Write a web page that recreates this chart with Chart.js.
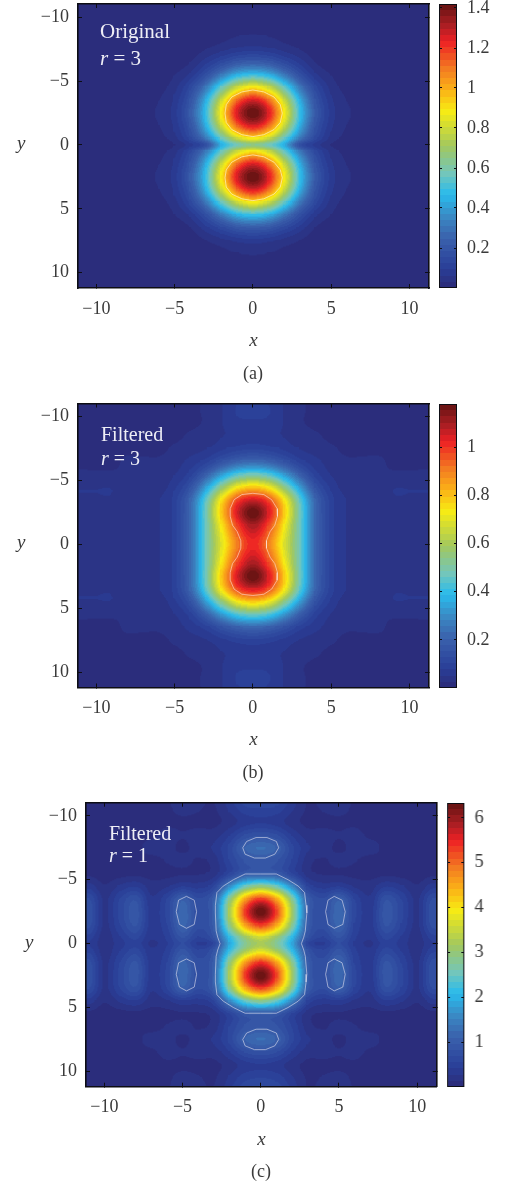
<!DOCTYPE html>
<html>
<head>
<meta charset="utf-8">
<script src="https://cdn.jsdelivr.net/npm/chart.js@4/dist/chart.umd.js"></script>
<style>
  html, body { margin: 0; padding: 0; background: #fff; }
  body { position: relative; width: 506px; height: 1185px; overflow: hidden; }
  canvas { position: absolute; }
</style>
</head>
<body>
<script>
// grid nodes of the three maps
const xNodes = [-12,-11,-10,-9,-8,-7,-6,-5,-4,-3,-2,-1,0,1,2,3,4,5,6,7,8,9,10,11,12];
const yNodes = [-11.5,-10.5,-9.5,-8.5,-7.5,-6.5,-5.5,-4.5,-3.5,-2.5,-1.5,-0.5,0,0.5,1.5,2.5,3.5,4.5,5.5,6.5,7.5,8.5,9.5,10.5,11.5];

const xTicks = [-10,-5,0,5,10];
const yTicks = [-10,-5,0,5,10];

// (a) original, r = 3
const zA = [
[0,0,0,0,0,0,0,0,0,0,0,0,0,0,0,0,0,0,0,0,0,0,0,0,0],
[0,0,0,0,0,0,0,0,0,0,0,0,0,0,0,0,0,0,0,0,0,0,0,0,0],
[0,0,0,0,0,0,0,0,0,0,0,0,0.01,0,0,0,0,0,0,0,0,0,0,0,0],
[0,0,0,0,0,0,0,0,0,0.01,0.02,0.03,0.035,0.03,0.02,0.01,0,0,0,0,0,0,0,0,0],
[0,0,0,0,0,0,0,0,0.01,0.03,0.05,0.07,0.08,0.07,0.05,0.03,0.01,0,0,0,0,0,0,0,0],
[0,0,0,0,0,0,0,0.01,0.03,0.08,0.14,0.2,0.22,0.2,0.14,0.08,0.03,0.01,0,0,0,0,0,0,0],
[0,0,0,0,0,0,0.01,0.03,0.07,0.17,0.31,0.44,0.49,0.44,0.31,0.17,0.07,0.03,0.01,0,0,0,0,0,0],
[0,0,0,0,0,0,0.02,0.05,0.14,0.31,0.56,0.79,0.89,0.79,0.56,0.31,0.14,0.05,0.02,0,0,0,0,0,0],
[0,0,0,0,0,0.01,0.03,0.07,0.19,0.44,0.79,1.12,1.26,1.12,0.79,0.44,0.19,0.07,0.03,0.01,0,0,0,0,0],
[0,0,0,0,0,0.01,0.04,0.08,0.22,0.49,0.89,1.26,1.42,1.26,0.89,0.49,0.22,0.08,0.04,0.01,0,0,0,0,0],
[0,0,0,0,0,0.01,0.03,0.07,0.19,0.44,0.79,1.12,1.26,1.12,0.79,0.44,0.19,0.07,0.03,0.01,0,0,0,0,0],
[0,0,0,0,0,0,0.02,0.05,0.14,0.31,0.56,0.79,0.89,0.79,0.56,0.31,0.14,0.05,0.02,0,0,0,0,0,0],
[0,0,0,0,0,0,0.01,0.03,0.08,0.17,0.44,0.58,0.65,0.58,0.44,0.17,0.08,0.03,0.01,0,0,0,0,0,0],
[0,0,0,0,0,0,0.02,0.05,0.14,0.31,0.56,0.79,0.89,0.79,0.56,0.31,0.14,0.05,0.02,0,0,0,0,0,0],
[0,0,0,0,0,0.01,0.03,0.07,0.19,0.44,0.79,1.12,1.26,1.12,0.79,0.44,0.19,0.07,0.03,0.01,0,0,0,0,0],
[0,0,0,0,0,0.01,0.04,0.08,0.22,0.49,0.89,1.26,1.42,1.26,0.89,0.49,0.22,0.08,0.04,0.01,0,0,0,0,0],
[0,0,0,0,0,0.01,0.03,0.07,0.19,0.44,0.79,1.12,1.26,1.12,0.79,0.44,0.19,0.07,0.03,0.01,0,0,0,0,0],
[0,0,0,0,0,0,0.02,0.05,0.14,0.31,0.56,0.79,0.89,0.79,0.56,0.31,0.14,0.05,0.02,0,0,0,0,0,0],
[0,0,0,0,0,0,0.01,0.03,0.07,0.17,0.31,0.44,0.49,0.44,0.31,0.17,0.07,0.03,0.01,0,0,0,0,0,0],
[0,0,0,0,0,0,0,0.01,0.03,0.08,0.14,0.2,0.22,0.2,0.14,0.08,0.03,0.01,0,0,0,0,0,0,0],
[0,0,0,0,0,0,0,0,0.01,0.03,0.05,0.07,0.08,0.07,0.05,0.03,0.01,0,0,0,0,0,0,0,0],
[0,0,0,0,0,0,0,0,0,0.01,0.02,0.03,0.035,0.03,0.02,0.01,0,0,0,0,0,0,0,0,0],
[0,0,0,0,0,0,0,0,0,0,0,0,0.01,0,0,0,0,0,0,0,0,0,0,0,0],
[0,0,0,0,0,0,0,0,0,0,0,0,0,0,0,0,0,0,0,0,0,0,0,0,0],
[0,0,0,0,0,0,0,0,0,0,0,0,0,0,0,0,0,0,0,0,0,0,0,0,0]
];

// (b) filtered, r = 3
const zB = [
[.01,.01,.01,.01,.01,.01,.01,.02,.02,.03,.05,.07,.08,.07,.05,.03,.02,.02,.01,.01,.01,.01,.01,.01,.01],
[.01,.01,.01,.01,.01,.01,.01,.01,.02,.03,.05,.08,.09,.08,.05,.03,.02,.01,.01,.01,.01,.01,.01,.01,.01],
[.01,.01,.01,.01,.01,.01,.01,.02,.02,.03,.05,.07,.07,.07,.05,.03,.02,.02,.01,.01,.01,.01,.01,.01,.01],
[.01,.01,.01,.02,.02,.02,.02,.02,.03,.04,.05,.06,.06,.06,.05,.04,.03,.02,.02,.02,.02,.02,.01,.01,.01],
[.01,.01,.02,.02,.02,.02,.02,.03,.04,.05,.07,.09,.1,.09,.07,.05,.04,.03,.02,.02,.02,.02,.02,.01,.01],
[.02,.02,.02,.02,.03,.03,.03,.04,.06,.09,.15,.2,.22,.2,.15,.09,.06,.04,.03,.03,.03,.02,.02,.02,.02],
[.03,.03,.03,.03,.03,.04,.04,.05,.09,.19,.32,.43,.47,.43,.32,.19,.09,.05,.04,.04,.03,.03,.03,.03,.03],
[.05,.05,.05,.05,.04,.04,.04,.07,.15,.33,.54,.72,.78,.72,.54,.33,.15,.07,.04,.04,.04,.05,.05,.05,.05],
[.05,.05,.05,.05,.04,.04,.05,.09,.21,.45,.74,.97,1.05,.97,.74,.45,.21,.09,.05,.04,.04,.05,.05,.05,.05],
[.05,.05,.05,.05,.04,.04,.05,.09,.22,.48,.79,1.05,1.18,1.05,.79,.48,.22,.09,.05,.04,.04,.05,.05,.05,.05],
[.05,.05,.05,.05,.05,.05,.05,.09,.22,.47,.74,.98,1.1,.98,.74,.47,.22,.09,.05,.05,.05,.05,.05,.05,.05],
[.05,.05,.05,.05,.05,.05,.05,.09,.22,.47,.7,.92,1.03,.92,.7,.47,.22,.09,.05,.05,.05,.05,.05,.05,.05],
[.05,.05,.05,.05,.05,.05,.05,.09,.22,.47,.69,.9,1.02,.9,.69,.47,.22,.09,.05,.05,.05,.05,.05,.05,.05],
[.05,.05,.05,.05,.05,.05,.05,.09,.22,.47,.7,.92,1.03,.92,.7,.47,.22,.09,.05,.05,.05,.05,.05,.05,.05],
[.05,.05,.05,.05,.05,.05,.05,.09,.22,.47,.74,.98,1.1,.98,.74,.47,.22,.09,.05,.05,.05,.05,.05,.05,.05],
[.05,.05,.05,.05,.04,.04,.05,.09,.22,.48,.79,1.05,1.18,1.05,.79,.48,.22,.09,.05,.04,.04,.05,.05,.05,.05],
[.05,.05,.05,.05,.04,.04,.05,.09,.21,.45,.74,.97,1.05,.97,.74,.45,.21,.09,.05,.04,.04,.05,.05,.05,.05],
[.05,.05,.05,.05,.04,.04,.04,.07,.15,.33,.54,.72,.78,.72,.54,.33,.15,.07,.04,.04,.04,.05,.05,.05,.05],
[.03,.03,.03,.03,.03,.04,.04,.05,.09,.19,.32,.43,.47,.43,.32,.19,.09,.05,.04,.04,.03,.03,.03,.03,.03],
[.02,.02,.02,.02,.03,.03,.03,.04,.06,.09,.15,.2,.22,.2,.15,.09,.06,.04,.03,.03,.03,.02,.02,.02,.02],
[.01,.01,.02,.02,.02,.02,.02,.03,.04,.05,.07,.09,.1,.09,.07,.05,.04,.03,.02,.02,.02,.02,.02,.01,.01],
[.01,.01,.01,.02,.02,.02,.02,.02,.03,.04,.05,.06,.06,.06,.05,.04,.03,.02,.02,.02,.02,.02,.01,.01,.01],
[.01,.01,.01,.01,.01,.01,.01,.02,.02,.03,.05,.07,.07,.07,.05,.03,.02,.02,.01,.01,.01,.01,.01,.01,.01],
[.01,.01,.01,.01,.01,.01,.01,.01,.02,.03,.05,.08,.09,.08,.05,.03,.02,.01,.01,.01,.01,.01,.01,.01,.01],
[.01,.01,.01,.01,.01,.01,.01,.02,.02,.03,.05,.07,.08,.07,.05,.03,.02,.02,.01,.01,.01,.01,.01,.01,.01]
];

// (c) filtered, r = 1
const zC = [
[.05,.1,.05,.05,.15,.05,.12,.3,.2,.15,.4,.7,.8,.7,.4,.15,.2,.3,.12,.05,.15,.05,.05,.1,.05],
[.05,.08,.05,.05,.1,.05,.1,.2,.15,.12,.3,.5,.55,.5,.3,.12,.15,.2,.1,.05,.1,.05,.05,.08,.05],
[.05,.05,.05,.05,.05,.05,.1,.1,.1,.1,.2,.35,.4,.35,.2,.1,.1,.1,.1,.05,.05,.05,.05,.05,.05],
[.08,.08,.08,.1,.1,.1,.2,.15,.2,.2,.4,.7,.8,.7,.4,.2,.2,.15,.2,.1,.1,.1,.08,.08,.08],
[.1,.08,.12,.12,.1,.2,.2,.1,.22,.3,.6,1.1,1.25,1.1,.6,.3,.22,.1,.2,.2,.1,.12,.12,.08,.1],
[.12,.1,.06,.1,.12,.08,.15,.2,.12,.2,.55,.85,.95,.85,.55,.2,.12,.2,.15,.08,.12,.1,.06,.1,.12],
[.1,.1,.06,.08,.1,.08,.1,.12,.12,.2,.55,.95,1,.95,.55,.2,.12,.12,.1,.08,.1,.08,.06,.1,.1],
[.3,.35,.15,.3,.4,.2,.25,.4,.35,.55,1.55,2.5,2.9,2.5,1.55,.55,.35,.4,.25,.2,.4,.3,.15,.35,.3],
[.55,.7,.25,.55,.8,.3,.55,1.05,.7,1.05,2.8,4.5,5.3,4.5,2.8,1.05,.7,1.05,.55,.3,.8,.55,.25,.7,.55],
[.6,.8,.25,.6,.9,.35,.6,1.2,.75,1.1,3.2,5.3,6.33,5.3,3.2,1.1,.75,1.2,.6,.35,.9,.6,.25,.8,.6],
[.6,.75,.25,.55,.85,.35,.55,1.15,.75,1.05,2.9,4.6,5.4,4.6,2.9,1.05,.75,1.15,.55,.35,.85,.55,.25,.75,.6],
[.45,.5,.2,.4,.6,.3,.45,.85,.55,.85,2.1,3.1,3.6,3.1,2.1,.85,.55,.85,.45,.3,.6,.4,.2,.5,.45],
[.4,.4,.2,.35,.5,.25,.4,.7,.4,.6,1.9,2.8,3.2,2.8,1.9,.6,.4,.7,.4,.25,.5,.35,.2,.4,.4],
[.45,.5,.2,.4,.6,.3,.45,.85,.55,.85,2.1,3.1,3.6,3.1,2.1,.85,.55,.85,.45,.3,.6,.4,.2,.5,.45],
[.6,.75,.25,.55,.85,.35,.55,1.15,.75,1.05,2.9,4.6,5.4,4.6,2.9,1.05,.75,1.15,.55,.35,.85,.55,.25,.75,.6],
[.6,.8,.25,.6,.9,.35,.6,1.2,.75,1.1,3.2,5.3,6.33,5.3,3.2,1.1,.75,1.2,.6,.35,.9,.6,.25,.8,.6],
[.55,.7,.25,.55,.8,.3,.55,1.05,.7,1.05,2.8,4.5,5.3,4.5,2.8,1.05,.7,1.05,.55,.3,.8,.55,.25,.7,.55],
[.3,.35,.15,.3,.4,.2,.25,.4,.35,.55,1.55,2.5,2.9,2.5,1.55,.55,.35,.4,.25,.2,.4,.3,.15,.35,.3],
[.1,.1,.06,.08,.1,.08,.1,.12,.12,.2,.55,.95,1,.95,.55,.2,.12,.12,.1,.08,.1,.08,.06,.1,.1],
[.12,.1,.06,.1,.12,.08,.15,.2,.12,.2,.55,.85,.95,.85,.55,.2,.12,.2,.15,.08,.12,.1,.06,.1,.12],
[.1,.08,.12,.12,.1,.2,.2,.1,.22,.3,.6,1.1,1.25,1.1,.6,.3,.22,.1,.2,.2,.1,.12,.12,.08,.1],
[.08,.08,.08,.1,.1,.1,.2,.15,.2,.2,.4,.7,.8,.7,.4,.2,.2,.15,.2,.1,.1,.1,.08,.08,.08],
[.05,.05,.05,.05,.05,.05,.1,.1,.1,.1,.2,.35,.4,.35,.2,.1,.1,.1,.1,.05,.05,.05,.05,.05,.05],
[.05,.08,.05,.05,.1,.05,.1,.2,.15,.12,.3,.5,.55,.5,.3,.12,.15,.2,.1,.05,.1,.05,.05,.08,.05],
[.05,.1,.05,.05,.15,.05,.12,.3,.2,.15,.4,.7,.8,.7,.4,.15,.2,.3,.12,.05,.15,.05,.05,.1,.05]
];

// white level lines as [x, y]
const contoursA = [
  [[0,-4.3],[.7,-4.15],[1.35,-3.75],[1.75,-3.15],[1.88,-2.48],[1.75,-1.75],[1.35,-1.2],[.7,-.8],[0,-.65],[-.7,-.8],[-1.35,-1.2],[-1.7,-1.75],[-1.78,-2.48],[-1.7,-3.15],[-1.35,-3.75],[-.7,-4.15],[0,-4.3]],
  [[0,.78],[.7,.93],[1.35,1.35],[1.75,1.95],[1.88,2.57],[1.75,3.3],[1.35,3.85],[.7,4.22],[0,4.36],[-.7,4.22],[-1.35,3.85],[-1.7,3.3],[-1.78,2.57],[-1.7,1.95],[-1.35,1.35],[-.7,.93],[0,.78]]
];
const contoursB = [
  [[0,-4],[.7,-3.9],[1.2,-3.5],[1.55,-2.8],[1.57,-2.2],[1.4,-1.5],[1.1,-1],[.87,-.3],[.87,.3],[1.1,1],[1.4,1.5],[1.57,2.2],[1.55,2.8],[1.2,3.5],[.7,3.9],[0,4],[-.7,3.9],[-1.2,3.5],[-1.45,2.8],[-1.45,2.2],[-1.3,1.5],[-1,1],[-.77,.3],[-.77,-.3],[-1,-1],[-1.3,-1.5],[-1.45,-2.2],[-1.45,-2.8],[-1.2,-3.5],[-.7,-3.9],[0,-4]]
];
const contoursC = [
  [[0,-5.45],[1,-5.45],[1.75,-5],[2.4,-4.5],[2.8,-4],[2.9,-3],[2.95,-2.4],[2.85,-1],[2.75,-.5],[2.6,0],[2.75,.5],[2.85,1],[2.95,2.4],[2.9,3],[2.8,4],[2.4,4.5],[1.75,5],[1,5.45],[0,5.45],[-1,5.45],[-1.75,5],[-2.4,4.5],[-2.8,4],[-2.9,3],[-2.9,2.4],[-2.85,1],[-2.75,.5],[-2.6,0],[-2.75,-.5],[-2.85,-1],[-2.9,-2.4],[-2.9,-3],[-2.8,-4],[-2.4,-4.5],[-1.75,-5],[-1,-5.45],[0,-5.45]],
  [[-1.15,-7.5],[-.9,-8],[-.3,-8.3],[.4,-8.3],[1,-8],[1.15,-7.5],[.9,-7],[.3,-6.7],[-.4,-6.7],[-1,-7],[-1.15,-7.5]],
  [[-1.15,7.5],[-.9,7],[-.3,6.7],[.4,6.7],[1,7],[1.15,7.5],[.9,8],[.3,8.3],[-.4,8.3],[-1,8],[-1.15,7.5]],
  [[-4.75,-3.7],[-4.25,-3.4],[-4.1,-2.5],[-4.25,-1.5],[-4.75,-1.2],[-5.2,-1.5],[-5.4,-2.5],[-5.25,-3.4],[-4.75,-3.7]],
  [[4.7,-3.7],[5.2,-3.4],[5.4,-2.5],[5.25,-1.5],[4.7,-1.2],[4.3,-1.5],[4.15,-2.5],[4.3,-3.4],[4.7,-3.7]],
  [[-4.75,1.2],[-4.25,1.5],[-4.1,2.4],[-4.25,3.4],[-4.75,3.7],[-5.2,3.4],[-5.4,2.4],[-5.25,1.5],[-4.75,1.2]],
  [[4.7,1.2],[5.2,1.5],[5.4,2.4],[5.25,3.4],[4.7,3.7],[4.3,3.4],[4.15,2.4],[4.3,1.5],[4.7,1.2]]
];

const barTicksA = [0.2,0.4,0.6,0.8,1,1.2,1.4];
const barTicksB = [0.2,0.4,0.6,0.8,1];
const barTicksC = [1,2,3,4,5,6];
const barRangeA = [0, 1.42];
const barRangeB = [0, 1.18];
const barRangeC = [0, 6.33];

// colour map, printed jet
const mapPos = [0,.06,.17,.25,.325,.4,.5,.625,.7,.78,.875,.93,1];
const mapCol = ['#2b2d7c','#2a3f98','#3a62ad','#3a8cc6','#29bbec','#72c6bc','#a2c85e','#f7ec13','#fbb217','#f37a21','#ed2024','#b01f24','#6d1414'];
const LEVELS = 46;

const serif = '"Liberation Serif", serif';
const inkText = '#3a3a3a';
const inkLine = '#0d0d14';

function hexRgb(h) {
  return [parseInt(h.slice(1,3),16), parseInt(h.slice(3,5),16), parseInt(h.slice(5,7),16)];
}

const lut = [];
for (let k = 0; k < LEVELS; k++) {
  const t = k / (LEVELS - 1);
  let m = 0;
  while (m < mapPos.length - 2 && t > mapPos[m + 1]) m++;
  const f = (t - mapPos[m]) / (mapPos[m + 1] - mapPos[m]);
  const a = hexRgb(mapCol[m]), b = hexRgb(mapCol[m + 1]);
  lut.push([0,1,2].map(c => Math.round(a[c] + (b[c] - a[c]) * f)));
}

function clamp01(v) { return v < 0 ? 0 : v > 1 ? 1 : v; }

// smooth shading between grid nodes, inside one cell
function hermite(v0, v1, v2, v3, t0, t1, t2, t3, s) {
  const h = t2 - t1;
  const m1 = (v2 - v0) / (t2 - t0) * h;
  const m2 = (v3 - v1) / (t3 - t1) * h;
  const s2 = s * s, s3 = s2 * s;
  return (2 * s3 - 3 * s2 + 1) * v1 + (s3 - 2 * s2 + s) * m1 + (3 * s2 - 2 * s3) * v2 + (s3 - s2) * m2;
}

// each cell is one scatter point; its point style is a small canvas shaded from the node values round it
function cellPatch(chart, cell, z, zMax) {
  const sx = chart.scales.x, sy = chart.scales.y;
  if (!chart.chartArea) return 'circle';
  const x0 = sx.getPixelForValue(xNodes[cell.i]), x1 = sx.getPixelForValue(xNodes[cell.i + 1]);
  const y0 = sy.getPixelForValue(yNodes[cell.j]), y1 = sy.getPixelForValue(yNodes[cell.j + 1]);
  if (!isFinite(x1 - x0) || !isFinite(y1 - y0) || x1 <= x0 || y1 <= y0) return 'circle';
  const w = Math.ceil(x1 - x0) + 2, h = Math.ceil(y1 - y0) + 2;
  const key = (x1 - x0) + '/' + (y1 - y0);
  if (cell.patch && cell.key === key) return cell.patch;
  const c = document.createElement('canvas');
  c.width = w; c.height = h;
  const g = c.getContext('2d');
  const img = g.createImageData(w, h);
  const I = [Math.max(cell.i - 1, 0), cell.i, cell.i + 1, Math.min(cell.i + 2, xNodes.length - 1)];
  const J = [Math.max(cell.j - 1, 0), cell.j, cell.j + 1, Math.min(cell.j + 2, yNodes.length - 1)];
  const tx = I.map(k => xNodes[k]), ty = J.map(k => yNodes[k]);
  for (let b = 0; b < h; b++) {
    const t = clamp01((b + .5 - h / 2) / (y1 - y0) + .5);
    for (let a = 0; a < w; a++) {
      const s = clamp01((a + .5 - w / 2) / (x1 - x0) + .5);
      const col4 = J.map(jj => {
        const row = z[jj];
        return hermite(row[I[0]], row[I[1]], row[I[2]], row[I[3]], tx[0], tx[1], tx[2], tx[3], s);
      });
      const v = Math.max(0, hermite(col4[0], col4[1], col4[2], col4[3], ty[0], ty[1], ty[2], ty[3], t));
      const col = lut[Math.min(LEVELS - 1, Math.floor(v / zMax * LEVELS))];
      const p = (b * w + a) * 4;
      img.data[p] = col[0]; img.data[p + 1] = col[1]; img.data[p + 2] = col[2]; img.data[p + 3] = 255;
    }
  }
  g.putImageData(img, 0, 0);
  cell.patch = c;
  cell.key = key;
  return c;
}

function makeCanvas(left, top, width, height) {
  const c = document.createElement('canvas');
  c.width = width; c.height = height;
  c.style.left = left + 'px';
  c.style.top = top + 'px';
  c.style.width = width + 'px';
  c.style.height = height + 'px';
  document.body.appendChild(c);
  return c;
}

function minusLabel(v) {
  return v < 0 ? '\u2212' + Math.abs(v) : String(v);
}

function setTicks(list) {
  return scale => { scale.ticks = list.map(v => ({ value: v })); };
}

// fixed axis box, and no extra room for half a tick label
function fixBox(s, axis, size) {
  if (axis === 'x') s.height = size; else s.width = size;
  s.paddingTop = 0; s.paddingBottom = 0; s.paddingLeft = 0; s.paddingRight = 0;
}

function plotAxis(axis, position, range, list, size, labelled) {
  return {
    type: 'linear', axis, position, min: range[0], max: range[1],
    reverse: axis === 'y',
    afterBuildTicks: setTicks(list),
    afterFit: s => fixBox(s, axis, size),
    grid: { drawOnChartArea: false, tickLength: -4, tickColor: inkLine, tickWidth: 1, z: 1 },
    border: { color: inkLine, width: 1.6, z: 2 },
    ticks: {
      display: labelled, padding: axis === 'x' ? 14 : 13, autoSkip: false, maxRotation: 0,
      color: inkText, font: { family: serif, size: 18 },
      callback: minusLabel
    }
  };
}

function drawPanel(p) {
  const canvas = makeCanvas(p.left, p.top, 506, p.height);
  const cells = [];
  for (let j = 0; j < yNodes.length - 1; j++) {
    for (let i = 0; i < xNodes.length - 1; i++) {
      cells.push({ x: (xNodes[i] + xNodes[i + 1]) / 2, y: (yNodes[j] + yNodes[j + 1]) / 2, i, j });
    }
  }
  const lines = p.contours.map(pts => ({
    data: pts.map(q => ({ x: q[0], y: q[1] })),
    showLine: true, pointRadius: 0, borderWidth: 1, borderColor: p.contourColor, tension: 0, order: 0
  }));
  const plotBottom = p.plotBottom - p.top, plotTop = p.plotTop - p.top;
  const xLabelSpace = p.height - 25.6 - plotBottom;
  const plotRight = p.plotRight - p.left, plotLeft = p.plotLeft - p.left;

  new Chart(canvas, {
    type: 'scatter',
    data: {
      datasets: lines.concat([{
        data: cells, order: 5, clip: 0,
        pointRadius: 30, pointBorderWidth: 0,
        pointStyle: c => c.raw ? cellPatch(c.chart, c.raw, p.z, p.zMax) : 'circle'
      }])
    },
    options: {
      responsive: false, animation: false, events: [],
      layout: { padding: 0, autoPadding: false },
      plugins: {
        legend: { display: false },
        tooltip: { enabled: false },
        title: {
          display: true, position: 'bottom', text: p.caption, color: inkText,
          font: { family: serif, size: 18, weight: 'normal', lineHeight: 1.2 },
          padding: { top: 0, bottom: 4 }
        }
      },
      scales: {
        x: Object.assign(plotAxis('x', 'bottom', p.xRange, xTicks, xLabelSpace, true), {
          title: {
            display: true, text: 'x', color: inkText,
            font: { family: serif, size: 19, style: 'italic', lineHeight: 1.2 },
            padding: { top: 0, bottom: xLabelSpace - p.xTitleOffset - 11.4 }
          }
        }),
        x2: plotAxis('x', 'top', p.xRange, xTicks, plotTop, false),
        y: plotAxis('y', 'left', p.yRange, yTicks, plotLeft, true),
        y2: plotAxis('y', 'right', p.yRange, yTicks, 506 - plotRight, false)
      }
    },
    plugins: [{
      id: 'panelNote',
      afterDraw(chart) {
        const g = chart.ctx;
        g.save();
        g.textBaseline = 'middle';
        g.fillStyle = inkText;
        g.font = 'italic 19px ' + serif;
        g.fillText('y', 17, chart.scales.y.getPixelForValue(0) - 1);
        g.fillStyle = '#eeeef6';
        g.font = p.noteSize + 'px ' + serif;
        g.fillText(p.note, p.noteX, p.noteY);
        g.font = 'italic ' + p.noteSize + 'px ' + serif;
        g.fillText('r', p.noteX, p.noteY + p.noteGap);
        const rw = g.measureText('r').width;
        g.font = p.noteSize + 'px ' + serif;
        g.fillText(' = ' + p.r, p.noteX + rw, p.noteY + p.noteGap);
        g.restore();
      }
    }]
  });
}

function drawBar(b) {
  const canvas = makeCanvas(b.left - 4, b.top - 4, 506 - b.left + 4, b.bottom - b.top + 8);
  const barAxis = (position, size, labelled) => ({
    type: 'linear', axis: 'y', position, min: b.range[0], max: b.range[1],
    afterBuildTicks: setTicks(b.ticks),
    afterFit: s => fixBox(s, 'y', size),
    grid: { drawOnChartArea: false, tickLength: -3, tickColor: inkLine, tickWidth: 1, z: 1 },
    border: { display: false },
    ticks: {
      display: labelled, padding: 13, autoSkip: false, maxRotation: 0,
      color: inkText, font: { family: serif, size: 18 },
      callback: minusLabel
    }
  });
  new Chart(canvas, {
    type: 'bar',
    data: {
      labels: [''],
      datasets: [{
        data: [b.range], yAxisID: 'y', barPercentage: 1, categoryPercentage: 1,
        borderColor: inkLine, borderWidth: 1.4, borderSkipped: false,
        backgroundColor: c => {
          const area = c.chart.chartArea;
          if (!area) return '#2b2d7c';
          const grad = c.chart.ctx.createLinearGradient(0, area.bottom, 0, area.top);
          lut.forEach((col, k) => {
            const css = 'rgb(' + col.join(',') + ')';
            grad.addColorStop(k / LEVELS, css);
            grad.addColorStop((k + 1) / LEVELS, css);
          });
          return grad;
        }
      }]
    },
    options: {
      responsive: false, animation: false, events: [],
      layout: { padding: { top: 4, bottom: 4, left: 0, right: 0 }, autoPadding: false },
      plugins: { legend: { display: false }, tooltip: { enabled: false } },
      scales: {
        x: { display: false },
        y: barAxis('right', 506 - b.right, true),
        y3: barAxis('left', 4, false)
      }
    }
  });
}

drawPanel({
  left: 0, top: 0, height: 389, caption: '(a)',
  plotLeft: 78, plotRight: 429, plotTop: 4, plotBottom: 288,
  xRange: [-11.17, 11.25], yRange: [-11.03, 11.2], xTitleOffset: 53,
  z: zA, zMax: barRangeA[1], contours: contoursA, contourColor: 'rgba(255,250,225,.6)',
  note: 'Original', r: 3, noteSize: 21, noteX: 100, noteY: 32, noteGap: 27
});
drawBar({ left: 439, right: 457, top: 4, bottom: 288, range: barRangeA, ticks: barTicksA });

drawPanel({
  left: 0, top: 399, height: 389, caption: '(b)',
  plotLeft: 78, plotRight: 429, plotTop: 403.5, plotBottom: 687.5,
  xRange: [-11.17, 11.25], yRange: [-11.03, 11.2], xTitleOffset: 52.5,
  z: zB, zMax: barRangeB[1], contours: contoursB, contourColor: 'rgba(255,225,215,.6)',
  note: 'Filtered', r: 3, noteSize: 20, noteX: 101, noteY: 37, noteGap: 24
});
drawBar({ left: 438.5, right: 457, top: 403.5, bottom: 687.5, range: barRangeB, ticks: barTicksB });

drawPanel({
  left: 8, top: 798, height: 389, caption: '(c)',
  plotLeft: 86, plotRight: 436.7, plotTop: 802.7, plotBottom: 1086.7,
  xRange: [-11.17, 11.25], yRange: [-11.03, 11.2], xTitleOffset: 53,
  z: zC, zMax: barRangeC[1], contours: contoursC, contourColor: 'rgba(225,225,240,.6)',
  note: 'Filtered', r: 1, noteSize: 20, noteX: 101, noteY: 37, noteGap: 22
});
drawBar({ left: 447.3, right: 465, top: 802.7, bottom: 1086.7, range: barRangeC, ticks: barTicksC });
</script>
</body>
</html>
